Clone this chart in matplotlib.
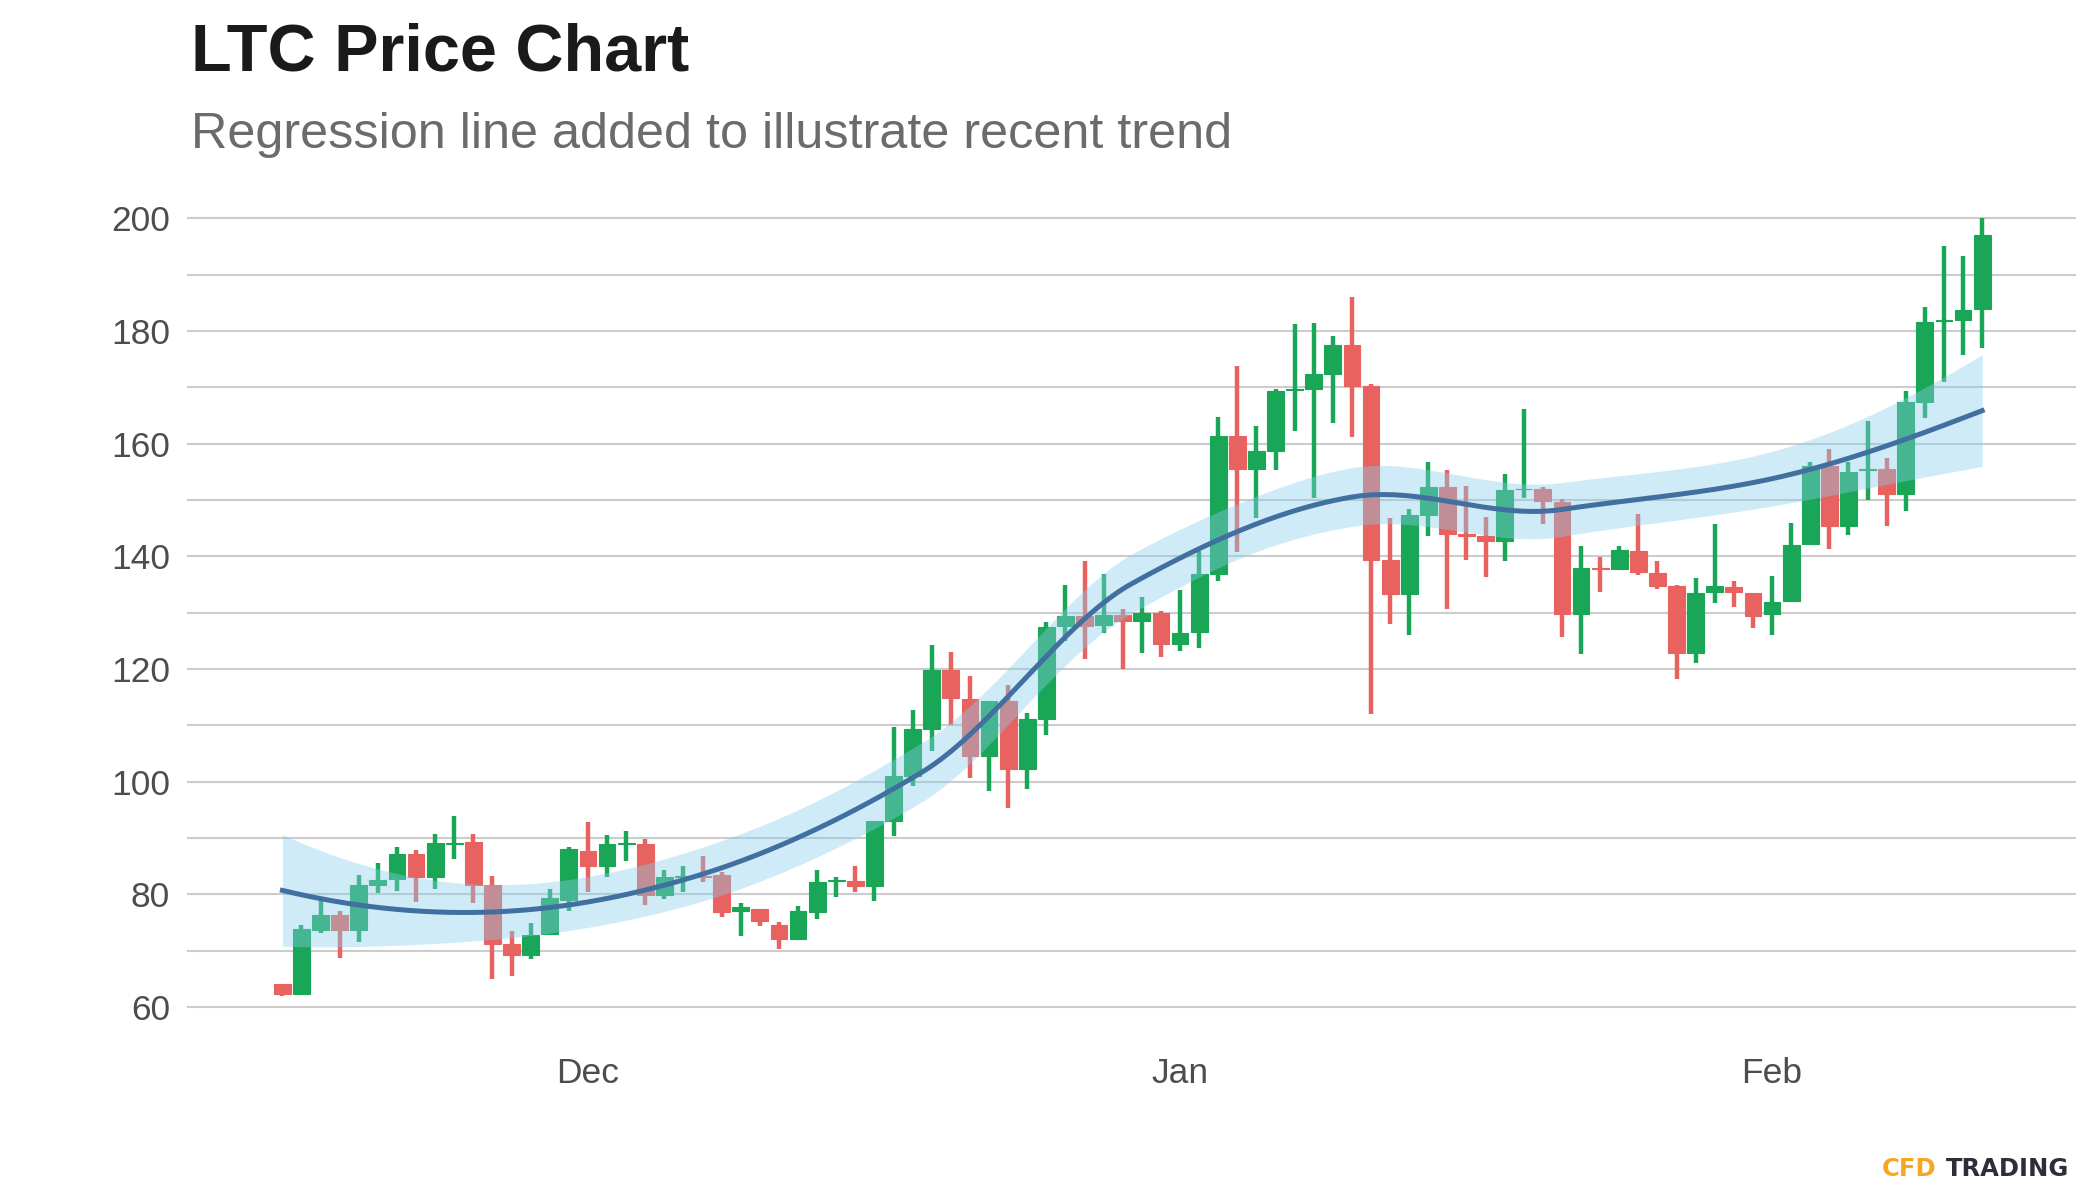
import numpy as np
import pandas as pd
import matplotlib
import matplotlib.pyplot as plt
import matplotlib.dates as mdates

matplotlib.use("Agg")
plt.rcParams["font.family"] = ["Liberation Sans", "DejaVu Sans"]

# daily LTC candles, 15 Nov 2020 .. 12 Feb 2021
dates = pd.date_range("2020-11-15", periods=90, freq="D")

open_ = [64.0, 62.4, 73.6, 76.4, 73.6, 81.7, 82.7, 87.2, 83.0, 89.0,
         89.3, 81.6, 71.1, 69.3, 72.9, 79.0, 87.7, 85.1, 89.0, 89.0,
         79.8, 83.0, 83.3, 83.5, 77.1, 77.4, 74.6, 72.1, 76.8, 82.3,
         82.4, 81.4, 93.0, 101.0, 109.4, 119.9, 114.7, 104.5, 114.3, 102.3,
         111.2, 127.6, 129.4, 127.8, 129.6, 128.6, 130.0, 124.4, 126.6, 136.9,
         161.3, 155.5, 158.8, 169.5, 169.7, 172.3, 177.6, 170.3, 139.4, 133.4,
         147.4, 152.4, 144.0, 143.6, 142.8, 151.9, 152.0, 149.7, 129.7, 137.9,
         137.7, 141.0, 137.1, 134.7, 122.8, 133.6, 134.6, 133.5, 129.7, 132.0,
         142.2, 156.1, 145.4, 155.3, 155.6, 151.0, 167.5, 181.8, 181.9, 183.9]
high = [64.0, 74.5, 78.9, 77.1, 83.5, 85.6, 88.4, 87.9, 90.8, 93.9,
        90.7, 83.2, 73.5, 74.9, 80.9, 88.4, 92.9, 90.6, 91.2, 89.8,
        84.3, 85.1, 86.8, 83.9, 78.4, 77.4, 75.1, 77.9, 84.3, 83.0,
        85.1, 93.1, 109.7, 112.7, 124.2, 123.1, 118.7, 114.3, 117.1, 112.2,
        128.4, 134.9, 139.2, 136.9, 130.6, 132.8, 130.3, 134.0, 140.9, 164.7,
        173.8, 163.2, 169.8, 181.2, 181.5, 179.2, 186.1, 170.6, 146.8, 148.4,
        156.8, 155.3, 152.5, 147.0, 154.7, 166.1, 152.4, 150.2, 141.8, 139.9,
        141.8, 147.5, 139.2, 135.0, 136.2, 145.8, 135.7, 133.5, 136.5, 145.9,
        156.7, 159.0, 156.8, 164.1, 157.4, 169.3, 184.3, 195.1, 193.4, 200.0]
low = [61.9, 62.3, 73.1, 68.7, 71.5, 80.2, 80.6, 78.6, 80.9, 86.3,
       78.4, 65.0, 65.5, 68.5, 72.9, 77.1, 80.4, 83.1, 85.9, 78.1,
       79.1, 80.5, 82.2, 75.9, 72.6, 74.4, 70.3, 72.1, 75.7, 79.5,
       80.5, 78.9, 90.4, 99.3, 105.5, 110.0, 100.7, 98.4, 95.4, 98.7,
       108.3, 124.9, 121.7, 126.4, 120.0, 122.8, 122.1, 123.2, 123.7, 135.6,
       140.8, 146.9, 155.3, 162.3, 150.3, 163.6, 161.2, 112.0, 128.0, 126.0,
       143.6, 130.7, 139.4, 136.3, 139.2, 150.4, 145.8, 125.7, 122.6, 133.7,
       137.7, 136.7, 134.3, 118.2, 121.0, 131.7, 131.0, 127.3, 126.1, 131.9,
       142.2, 141.4, 143.8, 150.1, 145.4, 148.0, 164.5, 170.9, 175.8, 177.0]
close = [62.4, 73.9, 76.4, 73.6, 81.7, 82.6, 87.2, 83.0, 89.1, 89.2,
         81.7, 71.2, 69.3, 72.8, 79.3, 88.0, 85.1, 89.0, 89.2, 79.8,
         83.1, 83.3, 83.0, 76.8, 77.7, 75.2, 72.1, 77.0, 82.2, 82.5,
         81.4, 93.1, 101.0, 109.4, 119.9, 114.8, 104.5, 114.3, 102.3, 111.1,
         127.4, 129.4, 127.7, 129.6, 128.6, 130.0, 124.4, 126.4, 136.9, 161.3,
         155.5, 158.8, 169.3, 169.7, 172.3, 177.6, 170.3, 139.4, 133.4, 147.4,
         152.4, 143.9, 143.6, 142.8, 151.8, 152.0, 149.8, 129.7, 137.9, 137.7,
         141.1, 137.2, 134.7, 122.8, 133.5, 134.7, 133.6, 129.5, 131.9, 142.1,
         156.1, 145.4, 155.0, 155.5, 151.0, 167.5, 181.6, 181.9, 183.8, 197.0]

GREEN = "#1aa657"
RED = "#e8625f"


def local_ops(x, x0, span=0.75, degree=2):
    # value and slope operators of a local quadratic fit with tricube weights
    q = int(np.ceil(span * len(x)))
    d = np.abs(x - x0)
    h = np.sort(d)[q - 1]
    w = np.clip(1 - (d / h) ** 3, 0, None) ** 3
    X = np.vander(x - x0, degree + 1, increasing=True)
    A = np.linalg.solve(X.T @ (w[:, None] * X), X.T * w)
    return A[0], A[1]


def kd_vertices(x, fc):
    verts = {x.min(), x.max()}

    def split(pts):
        if len(pts) <= fc:
            return
        m = np.median(pts)
        verts.add(m)
        split(pts[pts <= m])
        split(pts[pts > m])

    split(x)
    return np.array(sorted(verts))


def loess_operator(x, grid, span=0.75):
    # R-style loess: exact fits at kd-tree vertices, cubic Hermite in between
    fc = int(np.floor(len(x) * span * 0.2))
    v = kd_vertices(x, fc)
    ops = [local_ops(x, vv, span) for vv in v]
    L = np.zeros((len(grid), len(x)))
    for i, g in enumerate(grid):
        k = min(np.searchsorted(v, g, side="right") - 1, len(v) - 2)
        dx = v[k + 1] - v[k]
        s = (g - v[k]) / dx
        h00 = 2 * s**3 - 3 * s**2 + 1
        h10 = s**3 - 2 * s**2 + s
        h01 = -2 * s**3 + 3 * s**2
        h11 = s**3 - s**2
        L[i] = (h00 * ops[k][0] + h10 * dx * ops[k][1]
                + h01 * ops[k + 1][0] + h11 * dx * ops[k + 1][1])
    return L


t = np.arange(len(dates), dtype=float)
y = np.array(close)
L_data = loess_operator(t, t)
resid = y - L_data @ y
sigma = np.sqrt(resid @ resid / np.trace(np.eye(len(t)) - L_data))

grid = np.linspace(t[0], t[-1], 400)
L_grid = loess_operator(t, grid)
fit = L_grid @ y
se = sigma * np.sqrt((L_grid ** 2).sum(axis=1))
lo, hi = fit - 1.99 * se, fit + 1.99 * se

fig = plt.figure(figsize=(21, 12), dpi=100)
ax = fig.add_axes([0.089, 0.135, 0.8996, 0.69])

x = mdates.date2num(dates)
xg = x[0] + grid
o = np.array(open_)
c = np.array(close)
colors = np.where(c >= o, GREEN, RED)

ax.vlines(x, low, high, colors=colors, linewidth=3.2, zorder=2)
ax.bar(x, np.abs(c - o), bottom=np.minimum(o, c), width=0.88,
       color=colors, edgecolor=colors, linewidth=0.8, zorder=3)

ax.fill_between(xg, lo, hi, color="#87ceeb", alpha=0.4, linewidth=0, zorder=4)
ax.plot(xg, fit, color="#4170a0", linewidth=3.6, zorder=5)

ax.set_ylim(54.5, 201.5)
ax.set_xlim(mdates.date2num(pd.Timestamp("2020-11-10")),
            mdates.date2num(pd.Timestamp("2021-02-16 22:00")))
ax.set_yticks(range(60, 201, 20))
ax.set_yticks(range(70, 200, 20), minor=True)
ax.xaxis.set_major_locator(mdates.MonthLocator())
ax.xaxis.set_major_formatter(mdates.DateFormatter("%b"))
ax.grid(True, which="both", axis="y", color="#cccccc", linewidth=1.5, zorder=0)
ax.set_axisbelow(True)
ax.tick_params(axis="both", which="both", length=0, labelsize=25.5,
               labelcolor="#4d4d4d", pad=12)
ax.tick_params(axis="x", pad=14)
for s in ax.spines.values():
    s.set_visible(False)

fig.text(0.091, 0.941, "LTC Price Chart", fontsize=48, fontweight="bold",
         color="#1a1a1a", va="baseline")
fig.text(0.091, 0.877, "Regression line added to illustrate recent trend",
         fontsize=36.3, color="#6b6b6b", va="baseline")

fig.text(0.896, 0.02, "CFD", fontsize=17.5, fontweight="bold", color="#f5a623",
         family="DejaVu Sans", va="baseline")
fig.text(0.9265, 0.02, "TRADING", fontsize=17.5, fontweight="bold",
         color="#2e2e3a", family="DejaVu Sans", va="baseline")

fig.savefig("out.png", dpi=100, facecolor="white")
